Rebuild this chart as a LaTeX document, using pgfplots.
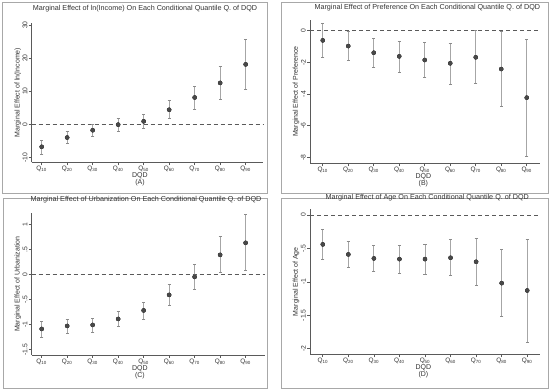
\documentclass[border=0pt]{standalone}
\usepackage{pgfplots}
\pgfplotsset{compat=1.18}
\usepackage{pgfplotstable}
\usepackage{fontspec}
\setmainfont{Liberation Sans}
\definecolor{mk}{HTML}{484848}
\definecolor{ebc}{HTML}{A6A6A6}
\definecolor{cap}{HTML}{8A8A8A}
\definecolor{axc}{HTML}{5A5A5A}
\definecolor{frm}{HTML}{A8A8A8}
\definecolor{txt}{HTML}{333333}

\pgfplotstableread{
x y lo hi
1 -6.8 -9.0 -4.8
2 -4.0 -5.9 -2.2
3 -1.8 -3.6 0.1
4 -0.1 -2.1 1.9
5 0.9 -1.3 3.1
6 4.4 1.8 7.1
7 8.1 4.6 11.5
8 12.5 7.5 17.4
9 18.1 10.6 25.6
}\dataA
\pgfplotstableread{
x y lo hi
1 -0.61 -1.68 0.46
2 -0.97 -1.89 -0.04
3 -1.39 -2.32 -0.48
4 -1.62 -2.61 -0.65
5 -1.85 -2.95 -0.74
6 -2.06 -3.39 -0.80
7 -1.68 -3.33 0.0
8 -2.42 -4.80 -0.04
9 -4.23 -7.92 -0.55
}\dataB
\pgfplotstableread{
x y lo hi
1 -1.09 -1.26 -0.93
2 -1.03 -1.18 -0.90
3 -1.01 -1.15 -0.87
4 -0.89 -1.03 -0.74
5 -0.72 -0.89 -0.56
6 -0.41 -0.61 -0.21
7 -0.05 -0.30 0.20
8 0.39 0.03 0.76
9 0.63 0.07 1.19
}\dataC
\pgfplotstableread{
x y lo hi
1 -0.44 -0.66 -0.22
2 -0.59 -0.79 -0.40
3 -0.65 -0.85 -0.46
4 -0.66 -0.87 -0.45
5 -0.66 -0.89 -0.44
6 -0.64 -0.91 -0.36
7 -0.70 -1.05 -0.35
8 -1.02 -1.52 -0.52
9 -1.13 -1.91 -0.36
}\dataD

\newcommand{\ft}{\fontsize{7.2}{8}\selectfont}
\newcommand{\fs}{\fontsize{7}{7.6}\selectfont}
\newcommand{\fy}{\fontsize{6.8}{7.5}\selectfont}
\newcommand{\fq}{\fontsize{6.4}{7}\selectfont}

\pgfplotsset{
  panel/.style={
    scale only axis,
    axis x line*=bottom, axis y line*=left,
    axis line style={draw=axc, line width=0.6pt},
    tick align=outside, major tick length=3pt,
    every tick/.style={draw=axc, line width=0.6pt},
    xtick={1,...,9},
    xticklabels={Q\textsubscript{10},Q\textsubscript{20},Q\textsubscript{30},Q\textsubscript{40},Q\textsubscript{50},Q\textsubscript{60},Q\textsubscript{70},Q\textsubscript{80},Q\textsubscript{90}},
    xticklabel style={font=\fq, text=txt, inner sep=0.8pt},
    yticklabel style={rotate=90, anchor=south, font=\fy, text=txt, inner sep=1pt},
    ylabel style={font=\fs, text=txt, inner sep=0.5pt},
    xlabel style={font=\fs, text=txt, align=center, inner sep=0pt, anchor=north},
    title style={font=\ft, text=txt, inner sep=0pt, anchor=south},
    clip=false,
  },
  bars/.style={only marks, mark=none, draw=none,
    error bars/.cd, y dir=both, y explicit,
    error bar style={draw=ebc, line width=1pt},
    error mark=-,
    error mark options={draw=cap, mark size=1.6pt, line width=0.8pt, rotate=90}},
  pts/.style={only marks, mark=*, mark size=2pt, color=mk},
  zl/.style={axc, line width=0.7pt, dash pattern=on 4pt off 3pt},
}

\begin{document}
\begin{tikzpicture}
\path[use as bounding box, fill=white] (0pt,0pt) rectangle (550pt,390pt);
\draw[frm, line width=0.8pt] (2pt,197pt) rectangle (267pt,388pt);
\draw[frm, line width=0.8pt] (281pt,197pt) rectangle (548pt,388pt);
\draw[frm, line width=0.8pt] (3pt,2pt) rectangle (267pt,192pt);
\draw[frm, line width=0.8pt] (281pt,2pt) rectangle (548pt,192pt);

% Panel A
\begin{axis}[panel, at={(31.7pt,227.7pt)}, anchor=south west,
  width=231.3pt, height=139.6pt,
  xmin=0.608, xmax=9.68, ymin=-11.48, ymax=30.7,
  ytick={-10,0,10,20,30}, yticklabels={-10,0,10,20,30},
  ylabel={Marginal Effect of ln(Income)},
  xlabel={DQD\\(A)},
  xlabel style={at={(axis description cs:0.468,0)}, yshift=-10pt},
  title={Marginal Effect of ln(Income) On Each Conditional Quantile Q. of DQD},
  title style={at={(axis description cs:0.49,1)}, yshift=4pt}]
\addplot[zl] coordinates {(0.608,0) (9.68,0)};
\addplot[bars] table[x=x,y=y,y error plus expr=\thisrow{hi}-\thisrow{y},y error minus expr=\thisrow{y}-\thisrow{lo}] {\dataA};
\addplot[pts] table[x=x,y=y] {\dataA};
\end{axis}

% Panel B
\begin{axis}[panel, at={(310pt,226.7pt)}, anchor=south west,
  width=230pt, height=143.3pt,
  xmin=0.50, xmax=9.52, ymin=-8.38, ymax=0.68,
  ytick={-8,-6,-4,-2,0}, yticklabels={-8,-6,-4,-2,0},
  ylabel={Marginal Effect of Preference},
  xlabel={DQD\\(B)},
  xlabel style={at={(axis description cs:0.493,0)}, yshift=-10pt},
  title={Marginal Effect of Preference On Each Conditional Quantile Q. of DQD},
  title style={at={(axis description cs:0.51,1)}, yshift=2.5pt}]
\addplot[zl] coordinates {(0.50,0) (9.52,0)};
\addplot[bars] table[x=x,y=y,y error plus expr=\thisrow{hi}-\thisrow{y},y error minus expr=\thisrow{y}-\thisrow{lo}] {\dataB};
\addplot[pts] table[x=x,y=y] {\dataB};
\end{axis}

% Panel C
\begin{axis}[panel, at={(31.7pt,35pt)}, anchor=south west,
  width=233.3pt, height=141.7pt,
  xmin=0.608, xmax=9.76, ymin=-1.61, ymax=1.22,
  ytick={-1.5,-1,-0.5,0,0.5,1}, yticklabels={-1.5,-1,-.5,0,.5,1},
  ylabel={Marginal Effect of Urbanization},
  xlabel={DQD\\(C)},
  xlabel style={at={(axis description cs:0.464,0)}, yshift=-10pt},
  title={Marginal Effect of Urbanization On Each Conditional Quantile Q. of DQD},
  title style={at={(axis description cs:0.49,1)}, yshift=4.5pt}]
\addplot[zl] coordinates {(0.608,0) (9.76,0)};
\addplot[bars] table[x=x,y=y,y error plus expr=\thisrow{hi}-\thisrow{y},y error minus expr=\thisrow{y}-\thisrow{lo}] {\dataC};
\addplot[pts] table[x=x,y=y] {\dataC};
\end{axis}

% Panel D
\begin{axis}[panel, at={(310pt,35.7pt)}, anchor=south west,
  width=230pt, height=145.3pt,
  xmin=0.50, xmax=9.5, ymin=-2.085, ymax=0.09,
  ytick={-2,-1.5,-1,-0.5,0}, yticklabels={-2,-1.5,-1,-.5,0},
  ylabel={Marginal Effect of Age},
  xlabel={DQD\\(D)},
  xlabel style={at={(axis description cs:0.493,0)}, yshift=-10pt},
  title={Marginal Effect of Age On Each Conditional Quantile Q. of DQD},
  title style={at={(axis description cs:0.51,1)}, yshift=1.5pt}]
\addplot[zl] coordinates {(0.50,0) (9.5,0)};
\addplot[bars] table[x=x,y=y,y error plus expr=\thisrow{hi}-\thisrow{y},y error minus expr=\thisrow{y}-\thisrow{lo}] {\dataD};
\addplot[pts] table[x=x,y=y] {\dataD};
\end{axis}
\end{tikzpicture}
\end{document}
